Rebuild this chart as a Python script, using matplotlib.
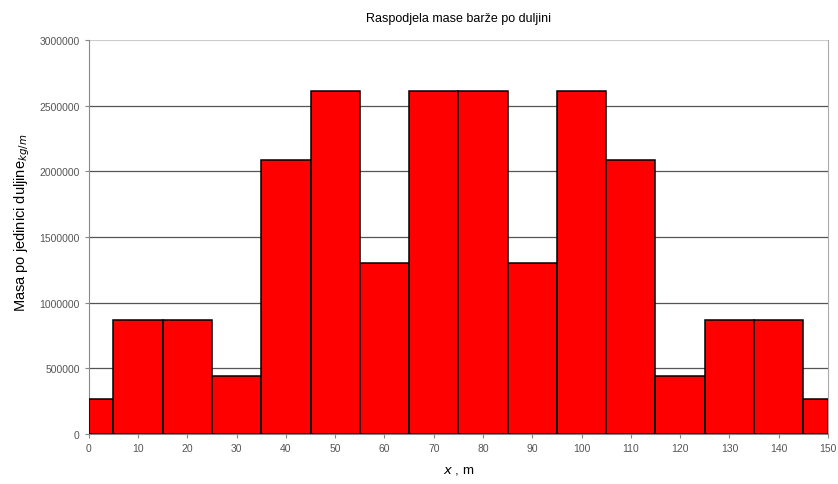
import numpy as np
import matplotlib
matplotlib.use('Agg')
import matplotlib.pyplot as plt

plt.rcParams['font.family'] = ['Liberation Sans', 'DejaVu Sans']

# Segmenti barže (početak i kraj, m) i masa po jedinici duljine (kg/m)
x_start = [0, 5, 15, 25, 35, 45, 55, 65, 75, 85, 95, 105, 115, 125, 135, 145]
x_end = [5, 15, 25, 35, 45, 55, 65, 75, 85, 95, 105, 115, 125, 135, 145, 150]
masa = [265000, 870000, 870000, 440000, 2087000, 2610000, 1305000, 2610000,
        2610000, 1305000, 2610000, 2087000, 440000, 870000, 870000, 265000]

x_ticks = list(range(0, 151, 10))
y_ticks = list(range(0, 3000001, 500000))

fig = plt.figure(figsize=(8.38, 4.85), dpi=100)
ax = fig.add_axes([0.106, 0.103, 0.882, 0.8125])

widths = np.array(x_end) - np.array(x_start)
ax.bar(x_start, masa, width=widths, align='edge', color='#ff0000',
       edgecolor='black', linewidth=1.1, zorder=3)

ax.set_xlim(0, 150)
ax.set_ylim(0, 3000000)
ax.set_xticks(x_ticks)
ax.set_yticks(y_ticks)
ax.set_yticklabels([str(v) for v in y_ticks])

# mreža
for v in y_ticks[1:-1]:
    ax.axhline(v, color='#555555', linewidth=0.9, zorder=1)
ax.axhline(3000000, color='#cccccc', linewidth=1.5, zorder=1)

ax.spines['top'].set_visible(False)
ax.spines['left'].set_color('#888888')
ax.spines['bottom'].set_color('#888888')
ax.spines['right'].set_color('#aaaaaa')
ax.tick_params(axis='both', colors='#888888', labelcolor='#555555',
               labelsize=7.5, length=3, direction='out')

ax.set_title('Raspodjela mase barže po duljini', fontsize=9, pad=14)
ax.set_xlabel(r'$\it{x}$ , m', fontsize=9.5, labelpad=8)
ax.set_ylabel(r'Masa po jedinici duljine$_{\mathit{kg/m}}$', fontsize=10.5)
ax.yaxis.set_label_coords(-0.077, 0.54)

fig.savefig('out.png', dpi=100)
